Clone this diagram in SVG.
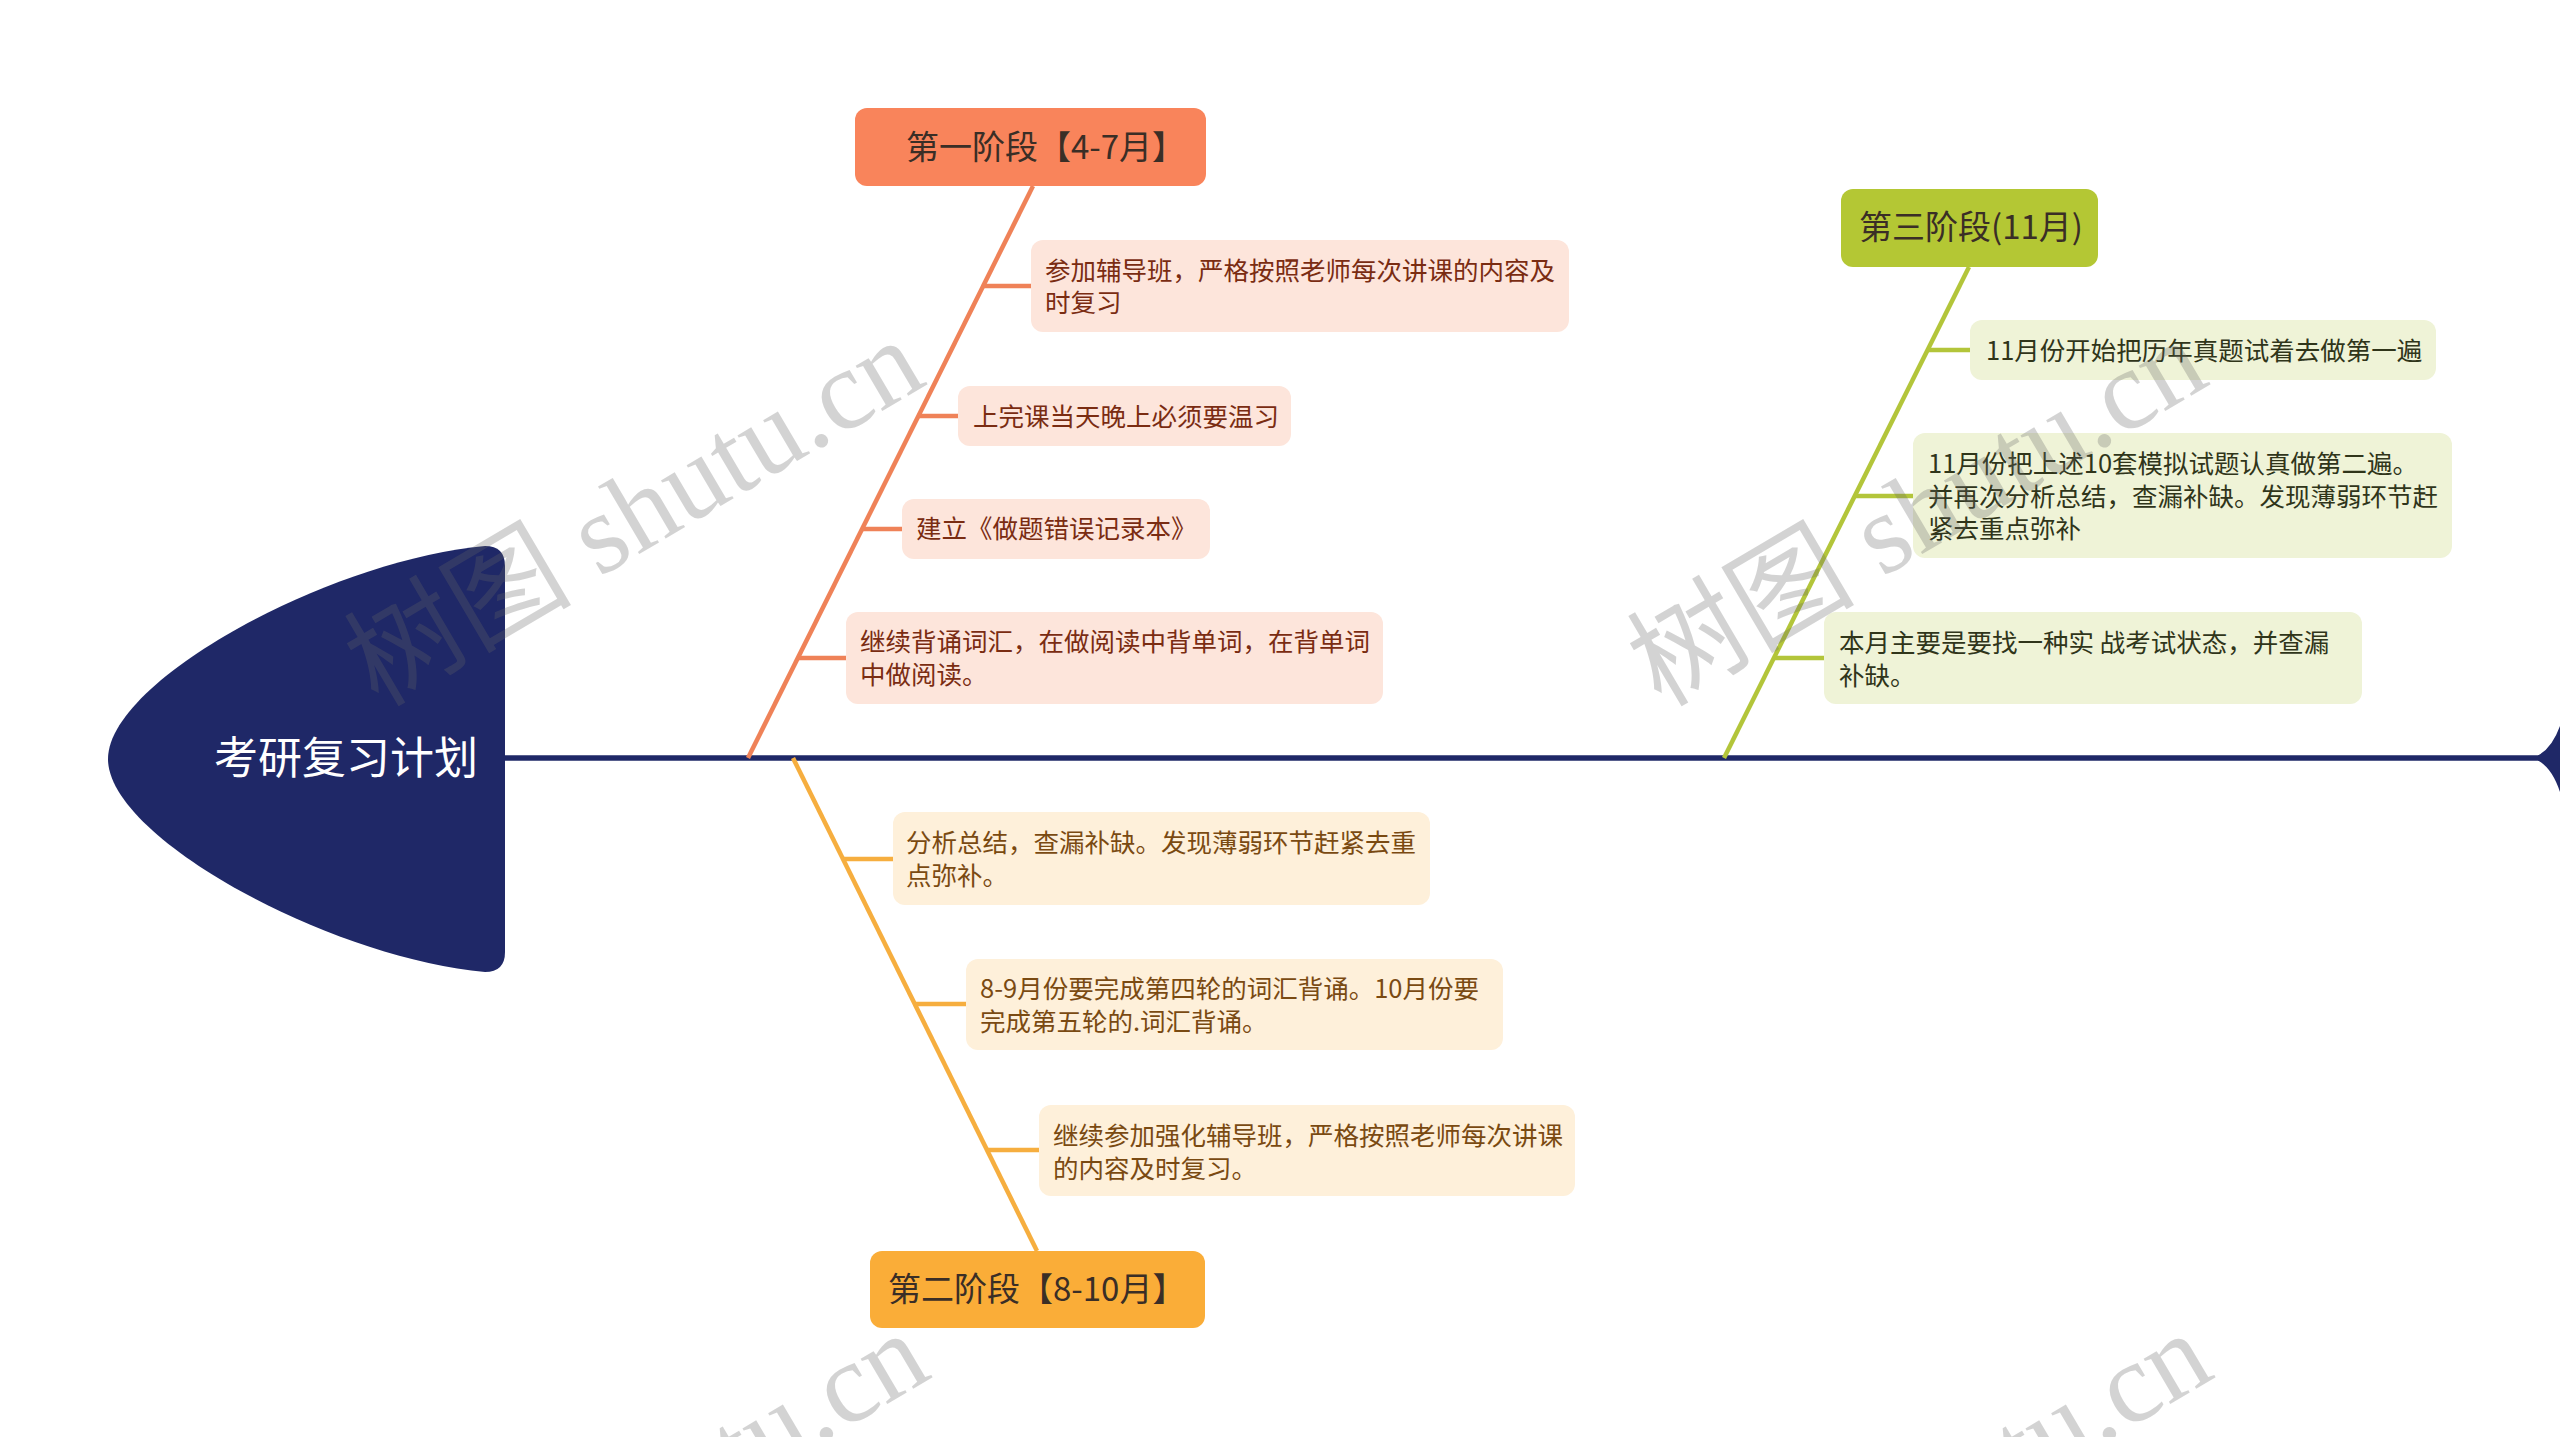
<svg xmlns="http://www.w3.org/2000/svg" width="2560" height="1437" viewBox="0 0 2560 1437">
<style>
.t{font-family:"Noto Sans CJK SC","Noto Sans",sans-serif;}
.title{font-size:33px;fill:#3a2e26;}
.c{font-size:25.5px;}
.c1{fill:#7a2c12;}
.c2{fill:#7a4a12;}
.c3{fill:#30351a;}
.b1{fill:#fde5db;}
.b2{fill:#fef0da;}
.b3{fill:#eff3d7;}
.l1{stroke:#ef8258;stroke-width:4.5;fill:none;}
.l2{stroke:#f6ae3f;stroke-width:4.5;fill:none;}
.l3{stroke:#b3c53a;stroke-width:4.5;fill:none;}
.wm{font-family:"Liberation Serif","Noto Sans CJK SC",serif;font-size:114px;fill:#666;opacity:0.28;}
</style>
<rect width="2560" height="1437" fill="#ffffff"/>
<g id="connectors">
<line x1="504" y1="758" x2="2542" y2="758" stroke="#1f2867" stroke-width="5.5"/>
<path d="M2560,726 Q2552,748 2538,755.5 L2538,760.5 Q2552,768 2560,792 Z" fill="#1f2867"/>
<line class="l1" x1="1033" y1="186" x2="748" y2="758"/>
<line class="l1" x1="982" y1="286" x2="1031" y2="286"/>
<line class="l1" x1="917" y1="416" x2="958" y2="416"/>
<line class="l1" x1="861" y1="529" x2="902" y2="529"/>
<line class="l1" x1="797" y1="658" x2="846" y2="658"/>
<line class="l2" x1="793" y1="758" x2="1037" y2="1251"/>
<line class="l2" x1="843" y1="859" x2="893" y2="859"/>
<line class="l2" x1="915" y1="1004" x2="966" y2="1004"/>
<line class="l2" x1="987" y1="1150" x2="1039" y2="1150"/>
<line class="l3" x1="1969" y1="267" x2="1724" y2="758"/>
<line class="l3" x1="1928" y1="350" x2="1970" y2="350"/>
<line class="l3" x1="1855" y1="496" x2="1913" y2="496"/>
<line class="l3" x1="1774" y1="658" x2="1824" y2="658"/>
</g>
<g id="root">
<path d="M485,546 Q505,546 505,566 L505,952 Q505,972 485,972 C330,958 108,838 108,759 C108,680 330,560 485,546 Z" fill="#1f2867"/>
<text class="t" x="346" y="774" font-size="44" fill="#ffffff" text-anchor="middle">考研复习计划</text>
</g>
<g id="stage1">
<rect x="855" y="108" width="351" height="78" rx="12" fill="#f9845b"/>
<text class="t title" x="906" y="159">第一阶段【4-7月】</text>
</g>
<g id="s1c1">
<rect class="b1" x="1031" y="240" width="538" height="92" rx="12"/>
<text class="t c c1" x="1045" y="280">参加辅导班，严格按照老师每次讲课的内容及</text>
<text class="t c c1" x="1045" y="312">时复习</text>
</g>
<g id="s1c2">
<rect class="b1" x="958" y="386" width="333" height="60" rx="12"/>
<text class="t c c1" x="973" y="426">上完课当天晚上必须要温习</text>
</g>
<g id="s1c3">
<rect class="b1" x="902" y="499" width="308" height="60" rx="12"/>
<text class="t c c1" x="916" y="538">建立《做题错误记录本》</text>
</g>
<g id="s1c4">
<rect class="b1" x="846" y="612" width="537" height="92" rx="12"/>
<text class="t c c1" x="860" y="651">继续背诵词汇，在做阅读中背单词，在背单词</text>
<text class="t c c1" x="860" y="684">中做阅读。</text>
</g>
<g id="stage2">
<rect x="870" y="1251" width="335" height="77" rx="12" fill="#faad38"/>
<text class="t title" x="888" y="1301">第二阶段【8-10月】</text>
</g>
<g id="s2c1">
<rect class="b2" x="893" y="812" width="537" height="93" rx="12"/>
<text class="t c c2" x="906" y="852">分析总结，查漏补缺。发现薄弱环节赶紧去重</text>
<text class="t c c2" x="906" y="885">点弥补。</text>
</g>
<g id="s2c2">
<rect class="b2" x="966" y="959" width="537" height="91" rx="12"/>
<text class="t c c2" x="980" y="998">8-9月份要完成第四轮的词汇背诵。10月份要</text>
<text class="t c c2" x="980" y="1031">完成第五轮的.词汇背诵。</text>
</g>
<g id="s2c3">
<rect class="b2" x="1039" y="1105" width="536" height="91" rx="12"/>
<text class="t c c2" x="1053" y="1145">继续参加强化辅导班，严格按照老师每次讲课</text>
<text class="t c c2" x="1053" y="1178">的内容及时复习。</text>
</g>
<g id="stage3">
<rect x="1841" y="189" width="257" height="78" rx="12" fill="#b4c734"/>
<text class="t title" x="1859" y="239">第三阶段(11月)</text>
</g>
<g id="s3c1">
<rect class="b3" x="1970" y="320" width="466" height="60" rx="12"/>
<text class="t c c3" x="1986" y="360">11月份开始把历年真题试着去做第一遍</text>
</g>
<g id="s3c2">
<rect class="b3" x="1913" y="433" width="539" height="125" rx="12"/>
<text class="t c c3" x="1928" y="473">11月份把上述10套模拟试题认真做第二遍。</text>
<text class="t c c3" x="1928" y="506">并再次分析总结，查漏补缺。发现薄弱环节赶</text>
<text class="t c c3" x="1928" y="538">紧去重点弥补</text>
</g>
<g id="s3c3">
<rect class="b3" x="1824" y="612" width="538" height="92" rx="12"/>
<text class="t c c3" x="1839" y="652">本月主要是要找一种实 战考试状态，并查漏</text>
<text class="t c c3" x="1839" y="685">补缺。</text>
</g>
<g id="watermarks">
<text class="wm" x="378" y="708" transform="rotate(-30.5 378 708)">树图 shutu.cn</text>
<text class="wm" x="1661" y="708" transform="rotate(-30.5 1661 708)">树图 shutu.cn</text>
<text class="wm" x="383" y="1701" transform="rotate(-30.5 383 1701)">树图 shutu.cn</text>
<text class="wm" x="1666" y="1701" transform="rotate(-30.5 1666 1701)">树图 shutu.cn</text>
</g>
</svg>
